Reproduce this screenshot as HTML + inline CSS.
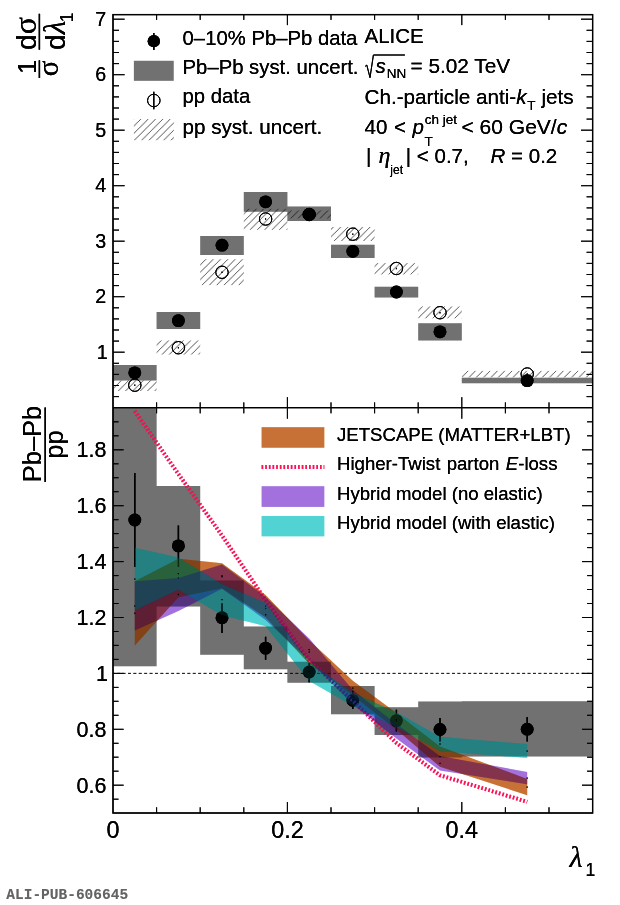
<!DOCTYPE html>
<html lang="en"><head><meta charset="utf-8"><title>ALI-PUB-606645</title>
<style>html,body{margin:0;padding:0;background:#fff}svg{display:block}text{font-family:"Liberation Sans",Arial,Helvetica,sans-serif;fill:#000}.it{font-style:italic}.gi{font-family:"Liberation Serif","DejaVu Serif",serif;font-style:italic}.gs{font-family:"Liberation Serif","DejaVu Serif",serif}.mono{font-family:"Liberation Mono","DejaVu Sans Mono",monospace;font-weight:bold;fill:#a8a8a8}</style></head><body>
<svg width="620" height="905" viewBox="0 0 620 905">
<defs><pattern id="hatch" patternUnits="userSpaceOnUse" width="7.33" height="7.33" x="3.4" y="0"><path d="M-1,8.33 L8.33,-1 M-1,1 L1,-1 M6.33,8.33 L8.33,6.33" stroke="#000" stroke-width="0.34" fill="none"/></pattern>
<clipPath id="cb"><rect x="113.0" y="407.7" width="479.6" height="405.3"/></clipPath>
<filter id="lin" filterUnits="userSpaceOnUse" x="0" y="0" width="620" height="905" color-interpolation-filters="sRGB"><feComponentTransfer><feFuncR type="table" tableValues="0.0000 0.0024 0.0052 0.0091 0.0143 0.0211 0.0293 0.0393 0.0509 0.0643 0.0796 0.0968 0.1160 0.1373 0.1607 0.1862 0.2140 0.2441 0.2765 0.3113 0.3485 0.3882 0.4304 0.4752 0.5225 0.5725 0.6252 0.6807 0.7388 0.7998 0.8637 0.9304 1.0000"/><feFuncG type="table" tableValues="0.0000 0.0024 0.0052 0.0091 0.0143 0.0211 0.0293 0.0393 0.0509 0.0643 0.0796 0.0968 0.1160 0.1373 0.1607 0.1862 0.2140 0.2441 0.2765 0.3113 0.3485 0.3882 0.4304 0.4752 0.5225 0.5725 0.6252 0.6807 0.7388 0.7998 0.8637 0.9304 1.0000"/><feFuncB type="table" tableValues="0.0000 0.0024 0.0052 0.0091 0.0143 0.0211 0.0293 0.0393 0.0509 0.0643 0.0796 0.0968 0.1160 0.1373 0.1607 0.1862 0.2140 0.2441 0.2765 0.3113 0.3485 0.3882 0.4304 0.4752 0.5225 0.5725 0.6252 0.6807 0.7388 0.7998 0.8637 0.9304 1.0000"/></feComponentTransfer></filter>
</defs>
<g filter="url(#lin)">
<rect width="620" height="905" fill="#fff"/>
<g id="top-panel">
<path d="M113.0,365.0H156.6V380.5H113.0ZM156.6,312.1H200.2V329.0H156.6ZM200.2,236.1H243.8V255.1H200.2ZM243.8,191.9H287.4V211.8H243.8ZM287.4,206.6H331.0V221.0H287.4ZM331.0,244.8H374.6V257.9H331.0ZM374.6,286.8H418.2V297.4H374.6ZM418.2,323.3H461.8V340.5H418.2ZM461.8,377.8H592.6V383.2H461.8Z" fill="#000" fill-opacity="0.3"/>
<rect x="113.0" y="380.5" width="43.6" height="10.5" fill="url(#hatch)"/>
<rect x="156.6" y="340.5" width="43.6" height="14.0" fill="url(#hatch)"/>
<rect x="200.2" y="259.2" width="43.6" height="25.9" fill="url(#hatch)"/>
<rect x="243.8" y="208.8" width="43.6" height="21.0" fill="url(#hatch)"/>
<rect x="287.4" y="210.5" width="43.6" height="7.9" fill="url(#hatch)"/>
<rect x="331.0" y="227.0" width="43.6" height="14.0" fill="url(#hatch)"/>
<rect x="374.6" y="263.1" width="43.6" height="11.3" fill="url(#hatch)"/>
<rect x="418.2" y="306.5" width="43.6" height="11.8" fill="url(#hatch)"/>
<rect x="461.8" y="370.9" width="130.8" height="6.4" fill="url(#hatch)"/>
<circle cx="134.8" cy="385.2" r="6.2" fill="none" stroke="#000" stroke-width="1"/>
<rect x="134.3" y="384.5" width="1" height="1.4" fill="#000"/>
<circle cx="178.4" cy="347.7" r="6.2" fill="none" stroke="#000" stroke-width="1"/>
<rect x="177.9" y="347.0" width="1" height="1.4" fill="#000"/>
<circle cx="222.0" cy="272.3" r="6.2" fill="none" stroke="#000" stroke-width="1"/>
<rect x="221.5" y="271.6" width="1" height="1.4" fill="#000"/>
<circle cx="265.6" cy="219.0" r="6.2" fill="none" stroke="#000" stroke-width="1"/>
<rect x="265.1" y="218.3" width="1" height="1.4" fill="#000"/>
<circle cx="309.2" cy="214.5" r="6.2" fill="none" stroke="#000" stroke-width="1"/>
<rect x="308.7" y="213.8" width="1" height="1.4" fill="#000"/>
<circle cx="352.8" cy="234.2" r="6.2" fill="none" stroke="#000" stroke-width="1"/>
<rect x="352.3" y="233.5" width="1" height="1.4" fill="#000"/>
<circle cx="396.4" cy="268.5" r="6.2" fill="none" stroke="#000" stroke-width="1"/>
<rect x="395.9" y="267.8" width="1" height="1.4" fill="#000"/>
<circle cx="440.0" cy="312.7" r="6.2" fill="none" stroke="#000" stroke-width="1"/>
<rect x="439.5" y="312.0" width="1" height="1.4" fill="#000"/>
<circle cx="527.2" cy="374.0" r="6.2" fill="none" stroke="#000" stroke-width="1"/>
<rect x="526.7" y="373.3" width="1" height="1.4" fill="#000"/>
<circle cx="134.8" cy="372.8" r="6.4" fill="#000"/>
<circle cx="178.4" cy="320.6" r="6.4" fill="#000"/>
<circle cx="222.0" cy="245.2" r="6.4" fill="#000"/>
<circle cx="265.6" cy="201.8" r="6.4" fill="#000"/>
<circle cx="309.2" cy="214.3" r="6.4" fill="#000"/>
<circle cx="352.8" cy="251.3" r="6.4" fill="#000"/>
<circle cx="396.4" cy="292.0" r="6.4" fill="#000"/>
<circle cx="440.0" cy="331.8" r="6.4" fill="#000"/>
<circle cx="527.2" cy="380.6" r="6.4" fill="#000"/>
</g>
<g id="bottom-panel" clip-path="url(#cb)">
<path d="M113.0,407.7H156.6V666.2H113.0ZM156.6,486.0H200.2V606.5H156.6ZM200.2,580.4H243.8V654.8H200.2ZM243.8,626.5H287.4V669.3H243.8ZM287.4,661.8H331.0V682.8H287.4ZM331.0,686.1H374.6V714.2H331.0ZM374.6,707.2H418.2V735.0H374.6ZM418.2,701.5H461.8V757.5H418.2ZM461.8,701.3H592.6V756.6H461.8Z" fill="#000" fill-opacity="0.3"/>
<line x1="113.0" y1="673.4" x2="592.6" y2="673.4" stroke="#000" stroke-width="0.65" stroke-dasharray="2.9 2.5" stroke-dashoffset="1.2"/>
<line x1="134.8" y1="473.0" x2="134.8" y2="567.0" stroke="#000" stroke-width="1.4"/>
<circle cx="134.8" cy="520.0" r="6.4" fill="#000"/>
<line x1="178.4" y1="525.6" x2="178.4" y2="567.0" stroke="#000" stroke-width="1.4"/>
<circle cx="178.4" cy="545.9" r="6.4" fill="#000"/>
<line x1="222.0" y1="603.2" x2="222.0" y2="632.9" stroke="#000" stroke-width="1.4"/>
<circle cx="222.0" cy="617.7" r="6.4" fill="#000"/>
<line x1="265.6" y1="636.8" x2="265.6" y2="659.7" stroke="#000" stroke-width="1.4"/>
<circle cx="265.6" cy="648.1" r="6.4" fill="#000"/>
<line x1="309.2" y1="663.0" x2="309.2" y2="682.3" stroke="#000" stroke-width="1.4"/>
<circle cx="309.2" cy="672.0" r="6.4" fill="#000"/>
<line x1="352.8" y1="690.5" x2="352.8" y2="709.0" stroke="#000" stroke-width="1.4"/>
<circle cx="352.8" cy="700.3" r="6.4" fill="#000"/>
<line x1="396.4" y1="709.7" x2="396.4" y2="731.0" stroke="#000" stroke-width="1.4"/>
<circle cx="396.4" cy="720.6" r="6.4" fill="#000"/>
<line x1="440.0" y1="718.0" x2="440.0" y2="741.5" stroke="#000" stroke-width="1.4"/>
<circle cx="440.0" cy="729.5" r="6.4" fill="#000"/>
<line x1="527.2" y1="717.0" x2="527.2" y2="741.5" stroke="#000" stroke-width="1.4"/>
<circle cx="527.2" cy="729.2" r="6.4" fill="#000"/>
<polygon points="134.8,581.3 178.4,558.7 222.0,563.3 265.6,594.9 309.2,640.3 352.8,680.8 396.4,713.0 440.0,746.4 527.2,779.0 527.2,795.2 440.0,766.8 396.4,729.5 352.8,695.5 309.2,663.7 265.6,617.5 222.0,588.2 178.4,597.2 134.8,645.4" fill="#cc6600" fill-opacity="0.5"/>
<rect x="134.2" y="612.7" width="1.2" height="1.2" fill="#000" fill-opacity="0.8"/>
<rect x="177.8" y="577.4" width="1.2" height="1.2" fill="#000" fill-opacity="0.8"/>
<rect x="221.4" y="575.1" width="1.2" height="1.2" fill="#000" fill-opacity="0.8"/>
<rect x="265.0" y="605.6" width="1.2" height="1.2" fill="#000" fill-opacity="0.8"/>
<rect x="308.6" y="651.4" width="1.2" height="1.2" fill="#000" fill-opacity="0.8"/>
<rect x="352.2" y="687.5" width="1.2" height="1.2" fill="#000" fill-opacity="0.8"/>
<rect x="395.8" y="720.6" width="1.2" height="1.2" fill="#000" fill-opacity="0.8"/>
<rect x="439.4" y="756.0" width="1.2" height="1.2" fill="#000" fill-opacity="0.8"/>
<rect x="526.6" y="786.5" width="1.2" height="1.2" fill="#000" fill-opacity="0.8"/>
<polyline points="134.8,411.0 178.4,474.0 222.0,535.5 265.6,600.0 309.2,660.2 352.8,700.8 396.4,743.0 440.0,775.3 527.2,801.8" fill="none" stroke="#ff4a94" stroke-width="3.9" stroke-dasharray="1.6 2.05"/>
<polygon points="134.8,581.3 178.4,578.1 222.0,564.6 265.6,596.9 309.2,638.6 352.8,690.0 396.4,724.0 440.0,756.1 527.2,772.0 527.2,784.2 440.0,770.6 396.4,738.4 352.8,704.5 309.2,660.6 265.6,620.0 222.0,588.7 178.4,610.9 134.8,630.6" fill="#6600cc" fill-opacity="0.3"/>
<rect x="134.2" y="605.4" width="1.2" height="1.2" fill="#000" fill-opacity="0.8"/>
<rect x="177.8" y="593.9" width="1.2" height="1.2" fill="#000" fill-opacity="0.8"/>
<rect x="221.4" y="576.1" width="1.2" height="1.2" fill="#000" fill-opacity="0.8"/>
<rect x="265.0" y="607.9" width="1.2" height="1.2" fill="#000" fill-opacity="0.8"/>
<rect x="308.6" y="649.0" width="1.2" height="1.2" fill="#000" fill-opacity="0.8"/>
<rect x="352.2" y="696.6" width="1.2" height="1.2" fill="#000" fill-opacity="0.8"/>
<rect x="395.8" y="730.6" width="1.2" height="1.2" fill="#000" fill-opacity="0.8"/>
<rect x="439.4" y="762.8" width="1.2" height="1.2" fill="#000" fill-opacity="0.8"/>
<rect x="526.6" y="777.5" width="1.2" height="1.2" fill="#000" fill-opacity="0.8"/>
<polygon points="134.8,547.8 178.4,557.5 222.0,583.9 265.6,603.1 309.2,662.0 352.8,692.6 396.4,712.2 440.0,736.8 527.2,744.1 527.2,758.1 440.0,751.3 396.4,727.3 352.8,706.0 309.2,681.0 265.6,626.2 222.0,615.3 178.4,589.8 134.8,610.5" fill="#00cccc" fill-opacity="0.4"/>
<rect x="134.2" y="578.5" width="1.2" height="1.2" fill="#000" fill-opacity="0.8"/>
<rect x="177.8" y="573.0" width="1.2" height="1.2" fill="#000" fill-opacity="0.8"/>
<rect x="221.4" y="599.0" width="1.2" height="1.2" fill="#000" fill-opacity="0.8"/>
<rect x="265.0" y="614.1" width="1.2" height="1.2" fill="#000" fill-opacity="0.8"/>
<rect x="308.6" y="670.9" width="1.2" height="1.2" fill="#000" fill-opacity="0.8"/>
<rect x="352.2" y="698.7" width="1.2" height="1.2" fill="#000" fill-opacity="0.8"/>
<rect x="395.8" y="719.1" width="1.2" height="1.2" fill="#000" fill-opacity="0.8"/>
<rect x="439.4" y="743.4" width="1.2" height="1.2" fill="#000" fill-opacity="0.8"/>
<rect x="526.6" y="750.5" width="1.2" height="1.2" fill="#000" fill-opacity="0.8"/>
</g>
<g id="axes" stroke="#000" stroke-width="1.25" fill="none">
<rect x="113.0" y="14.6" width="479.6" height="798.4"/>
<line x1="113.0" y1="407.7" x2="592.6" y2="407.7"/>
<path d="M156.6,14.6v5.3M156.6,402.4V413.3M156.6,813.0v-5.7M200.2,14.6v5.3M200.2,402.4V413.3M200.2,813.0v-5.7M243.8,14.6v5.3M243.8,402.4V413.3M243.8,813.0v-5.7M287.4,14.6v10.5M287.4,397.2V418.7M287.4,813.0v-11.0M331.0,14.6v5.3M331.0,402.4V413.3M331.0,813.0v-5.7M374.6,14.6v5.3M374.6,402.4V413.3M374.6,813.0v-5.7M418.2,14.6v5.3M418.2,402.4V413.3M418.2,813.0v-5.7M461.8,14.6v10.5M461.8,397.2V418.7M461.8,813.0v-11.0M505.4,14.6v5.3M505.4,402.4V413.3M505.4,813.0v-5.7M549.0,14.6v5.3M549.0,402.4V413.3M549.0,813.0v-5.7M113.0,396.6h6.0M592.6,396.6h-6.0M113.0,385.5h6.0M592.6,385.5h-6.0M113.0,374.4h6.0M592.6,374.4h-6.0M113.0,363.3h6.0M592.6,363.3h-6.0M113.0,352.2h11.6M592.6,352.2h-11.6M113.0,341.1h6.0M592.6,341.1h-6.0M113.0,330.0h6.0M592.6,330.0h-6.0M113.0,318.9h6.0M592.6,318.9h-6.0M113.0,307.8h6.0M592.6,307.8h-6.0M113.0,296.7h11.6M592.6,296.7h-11.6M113.0,285.6h6.0M592.6,285.6h-6.0M113.0,274.5h6.0M592.6,274.5h-6.0M113.0,263.4h6.0M592.6,263.4h-6.0M113.0,252.3h6.0M592.6,252.3h-6.0M113.0,241.2h11.6M592.6,241.2h-11.6M113.0,230.1h6.0M592.6,230.1h-6.0M113.0,219.0h6.0M592.6,219.0h-6.0M113.0,207.9h6.0M592.6,207.9h-6.0M113.0,196.8h6.0M592.6,196.8h-6.0M113.0,185.7h11.6M592.6,185.7h-11.6M113.0,174.6h6.0M592.6,174.6h-6.0M113.0,163.5h6.0M592.6,163.5h-6.0M113.0,152.4h6.0M592.6,152.4h-6.0M113.0,141.3h6.0M592.6,141.3h-6.0M113.0,130.2h11.6M592.6,130.2h-11.6M113.0,119.1h6.0M592.6,119.1h-6.0M113.0,108.0h6.0M592.6,108.0h-6.0M113.0,96.9h6.0M592.6,96.9h-6.0M113.0,85.8h6.0M592.6,85.8h-6.0M113.0,74.7h11.6M592.6,74.7h-11.6M113.0,63.6h6.0M592.6,63.6h-6.0M113.0,52.5h6.0M592.6,52.5h-6.0M113.0,41.4h6.0M592.6,41.4h-6.0M113.0,30.3h6.0M592.6,30.3h-6.0M113.0,19.2h11.6M592.6,19.2h-11.6M113.0,799.2h5.5M592.6,799.2h-5.5M113.0,785.2h10.6M592.6,785.2h-10.6M113.0,771.2h5.5M592.6,771.2h-5.5M113.0,757.2h5.5M592.6,757.2h-5.5M113.0,743.3h5.5M592.6,743.3h-5.5M113.0,729.3h10.6M592.6,729.3h-10.6M113.0,715.3h5.5M592.6,715.3h-5.5M113.0,701.3h5.5M592.6,701.3h-5.5M113.0,687.4h5.5M592.6,687.4h-5.5M113.0,673.4h10.6M592.6,673.4h-10.6M113.0,659.4h5.5M592.6,659.4h-5.5M113.0,645.4h5.5M592.6,645.4h-5.5M113.0,631.5h5.5M592.6,631.5h-5.5M113.0,617.5h10.6M592.6,617.5h-10.6M113.0,603.5h5.5M592.6,603.5h-5.5M113.0,589.5h5.5M592.6,589.5h-5.5M113.0,575.6h5.5M592.6,575.6h-5.5M113.0,561.6h10.6M592.6,561.6h-10.6M113.0,547.6h5.5M592.6,547.6h-5.5M113.0,533.6h5.5M592.6,533.6h-5.5M113.0,519.7h5.5M592.6,519.7h-5.5M113.0,505.7h10.6M592.6,505.7h-10.6M113.0,491.7h5.5M592.6,491.7h-5.5M113.0,477.7h5.5M592.6,477.7h-5.5M113.0,463.8h5.5M592.6,463.8h-5.5M113.0,449.8h10.6M592.6,449.8h-10.6M113.0,435.8h5.5M592.6,435.8h-5.5M113.0,421.8h5.5M592.6,421.8h-5.5" stroke-width="0.9"/>
</g>
<g id="ticklabels" font-size="21.5">
<text x="107.6" y="358.8" text-anchor="end" font-size="19.7">1</text>
<text x="106.3" y="303.3" text-anchor="end" font-size="19.7">2</text>
<text x="106.3" y="247.8" text-anchor="end" font-size="19.7">3</text>
<text x="106.3" y="192.3" text-anchor="end" font-size="19.7">4</text>
<text x="106.3" y="136.8" text-anchor="end" font-size="19.7">5</text>
<text x="106.3" y="81.3" text-anchor="end" font-size="19.7">6</text>
<text x="106.3" y="25.8" text-anchor="end" font-size="19.7">7</text>
<text x="106.5" y="792.6" text-anchor="end">0.6</text>
<text x="106.5" y="736.7" text-anchor="end">0.8</text>
<text x="108" y="680.8" text-anchor="end">1</text>
<text x="106.5" y="624.9" text-anchor="end">1.2</text>
<text x="106.5" y="569.0" text-anchor="end">1.4</text>
<text x="106.5" y="513.1" text-anchor="end">1.6</text>
<text x="106.5" y="457.2" text-anchor="end">1.8</text>
<text x="113.0" y="838" text-anchor="middle" font-size="23.4">0</text>
<text x="287.4" y="838" text-anchor="middle" font-size="23.4">0.2</text>
<text x="461.8" y="838" text-anchor="middle" font-size="23.4">0.4</text>
</g>
<g id="titles">
<text x="569.5" y="867.3" font-size="30" class="gi">λ</text><text x="585.6" y="876.3" font-size="17.5">1</text>
<g transform="translate(0,0) rotate(-90)">
<text x="-444" y="41.2" font-size="25.5" text-anchor="middle">Pb–Pb</text>
<text x="-444.5" y="63.3" font-size="25.5" text-anchor="middle">pp</text>
<line x1="-482" y1="45.2" x2="-407.4" y2="45.2" stroke="#000" stroke-width="1.4"/>
<text x="-67" y="35.5" font-size="25.5" text-anchor="middle">1</text>
<text x="-68.5" y="57.6" font-size="29" text-anchor="middle" class="gs">σ</text>
<line x1="-78" y1="39.4" x2="-60.3" y2="39.4" stroke="#000" stroke-width="1.4"/>
<text x="-49.9" y="36.3" font-size="28">d<tspan class="gs" font-size="32">σ</tspan></text>
<text x="-49.9" y="64.7" font-size="28">d<tspan class="gi" font-size="31">λ</tspan></text>
<text x="-22.3" y="72.7" font-size="17.5">1</text>
<line x1="-49.7" y1="39.4" x2="-13.8" y2="39.4" stroke="#000" stroke-width="1.4"/>
</g></g>
<g id="legend-top" font-size="20.3">
<line x1="153.8" y1="33" x2="153.8" y2="49.9" stroke="#000" stroke-width="1.4"/><circle cx="153.8" cy="41.2" r="6.15" fill="#000"/>
<text x="182.6" y="45">0–10% Pb–Pb data</text>
<rect x="133.9" y="60.8" width="39.8" height="20" fill="#000" fill-opacity="0.3"/>
<text x="182.6" y="73.6">Pb–Pb syst. uncert.</text>
<line x1="153.8" y1="91.7" x2="153.8" y2="109.2" stroke="#000" stroke-width="1.2"/><circle cx="153.8" cy="100.5" r="6.25" fill="none" stroke="#000" stroke-width="1"/>
<text x="182.6" y="103.4">pp data</text>
<rect x="133.9" y="119" width="39.9" height="21.2" fill="url(#hatch)"/>
<text x="182.6" y="133.8" font-size="20.6">pp syst. uncert.</text>
</g>
<g id="info" font-size="20.5">
<text x="364.5" y="43">ALICE</text>
<path d="M365.2,66.3 l1.6,-1.2 l3.2,12.5 l3.4,-22.6 h31.5" stroke="#000" stroke-width="1.0" fill="none"/>
<text x="375.4" y="72.8" class="it">s</text><text x="386.8" y="78.4" font-size="13.5">NN</text><text x="410.5" y="72.8" font-size="20.8">= 5.02 TeV</text>
<text x="364.5" y="104.4" font-size="20.7">Ch.-particle anti-<tspan class="it">k</tspan></text><text x="527.2" y="110" font-size="13.5">T</text><text x="541.5" y="104.4" font-size="20.7">jets</text>
<text x="364.5" y="133.8" word-spacing="0.9">40 &lt; <tspan class="it">p</tspan></text>
<text x="424.7" y="124" font-size="13.5">ch jet</text><text x="424.6" y="146.3" font-size="13.5">T</text>
<text x="461.5" y="133.8" font-size="21">&lt; 60 GeV/<tspan class="it">c</tspan></text>
<text x="366" y="163.4">|</text><text x="378.6" y="163.4" class="gi" font-size="24">η</text><text x="390.3" y="174.3" font-size="12">jet</text>
<text x="405.8" y="163.4">| &lt; 0.7,</text><text x="490.6" y="163.4"><tspan class="it">R</tspan> = 0.2</text>
</g>
<g id="legend-bottom" font-size="18.6">
<rect x="261.6" y="427.2" width="62.7" height="20.5" fill="#cc6600" fill-opacity="0.5"/>
<text x="337" y="440.6">JETSCAPE (MATTER+LBT)</text>
<line x1="261.6" y1="467" x2="324.3" y2="467" stroke="#ff4a94" stroke-width="3.9" stroke-dasharray="1.6 2.05"/>
<text x="337" y="470.2" word-spacing="1.2">Higher-Twist parton <tspan class="it">E</tspan>-loss</text>
<rect x="261.6" y="486.2" width="62.7" height="20.7" fill="#6600cc" fill-opacity="0.3"/>
<text x="337" y="499.8">Hybrid model (no elastic)</text>
<rect x="261.6" y="516" width="62.7" height="20.3" fill="#00cccc" fill-opacity="0.4"/>
<text x="337" y="529.2">Hybrid model (with elastic)</text>
</g>
<text x="6.3" y="899.4" class="mono" font-size="14.5">ALI-PUB-606645</text>
</g>
</svg></body></html>
